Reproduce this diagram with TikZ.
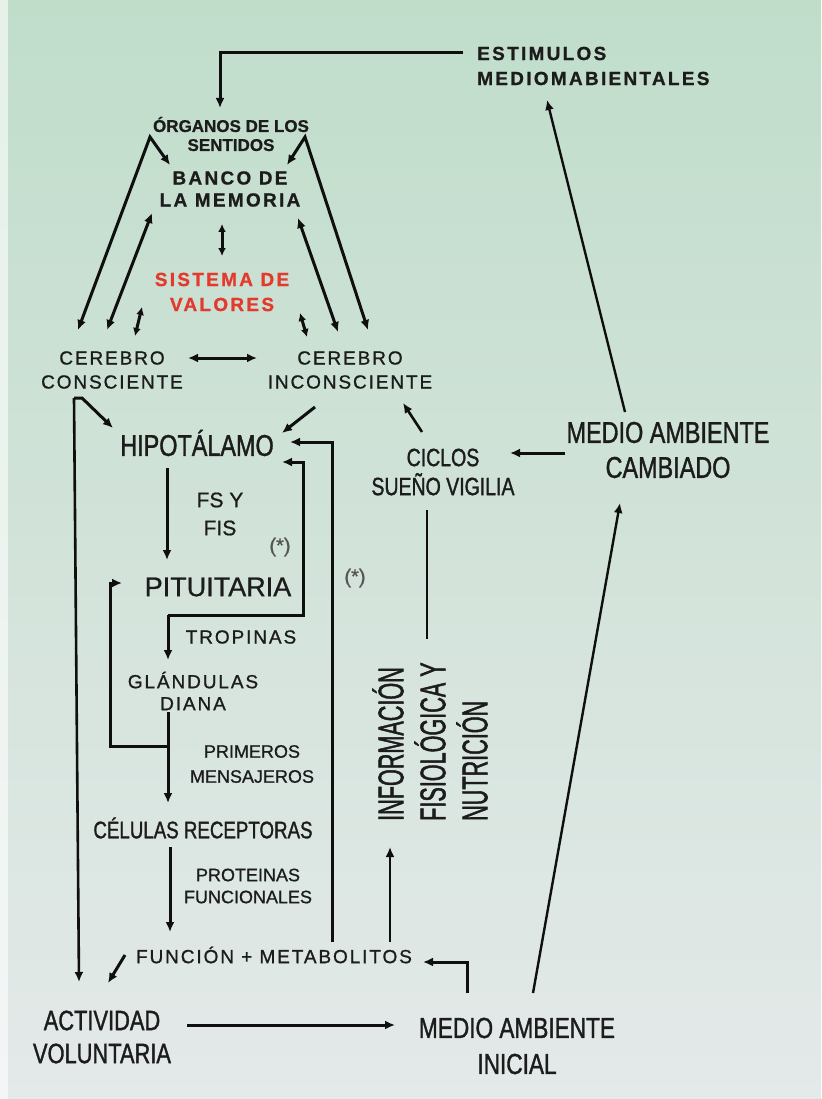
\documentclass[tikz,border=0pt]{standalone}
\usepackage{fontspec}
\setmainfont{Liberation Sans}[FakeBold=0.8]
\newfontfamily\wfont[LetterSpace=10, FakeBold=1]{Liberation Sans}
\newfontfamily\bwfont[LetterSpace=12, FakeBold=0.8]{Liberation Sans}
\newfontfamily\cfont[FakeStretch=0.78, FakeBold=1.2]{Liberation Sans}
\newfontfamily\ccfont[FakeStretch=0.6, FakeBold=1.2]{Liberation Sans}
\usetikzlibrary{arrows.meta}
\definecolor{txtcol}{RGB}{28,28,28}
\definecolor{linecol}{RGB}{15,15,15}
\definecolor{valred}{RGB}{228,58,45}
\definecolor{astcol}{RGB}{85,85,85}
\definecolor{bgtop}{RGB}{192,221,202}
\definecolor{bgmid}{RGB}{214,230,222}
\definecolor{bgbot}{RGB}{228,233,233}
\newcommand{\fsz}[2]{\fontsize{#1}{#2}\selectfont}
\tikzset{
	txt/.style={inner sep=0pt, align=center, text=txtcol},
	arr/.style={draw=linecol, line width=3pt, -{Latex[length=10pt,width=9pt]}},
	darr/.style={draw=linecol, line width=3pt, {Latex[length=10pt,width=9pt]}-{Latex[length=10pt,width=9pt]}},
	sdarr/.style={draw=linecol, line width=3pt, {Latex[length=8pt,width=8pt]}-{Latex[length=8pt,width=8pt]}},
	ln/.style={draw=linecol, line width=3pt}
}
\begin{document}
\begin{tikzpicture}[x=1pt,y=-1pt]
	\useasboundingbox (0,0) rectangle (821,1099);
	\shade[top color=bgtop, middle color=bgmid, bottom color=bgbot] (0,0) rectangle (821,1099);
	\fill[white, opacity=0.6] (0,0) rectangle (8,1099);
	\node[txt, anchor=west, align=left, font=\bwfont\bfseries\fsz{19}{25}] at (477,66) (estim) {ESTIMULOS\\MEDIOMABIENTALES};
	\node[txt, font=\bfseries\fsz{17}{19}] at (231,134) (organos) {ÓRGANOS DE LOS\\SENTIDOS};
	\node[txt, font=\bwfont\bfseries\fsz{19}{22}] at (230,189) (banco) {BANCO DE\\LA MEMORIA};
	\node[txt, text=valred, font=\bwfont\bfseries\fsz{19}{25}] at (222,292) (sistema) {SISTEMA DE\\VALORES};
	\node[txt, font=\wfont\fsz{19}{24}] at (112,370) (cc) {CEREBRO\\CONSCIENTE};
	\node[txt, font=\wfont\fsz{19}{24}] at (350,370) (ci) {CEREBRO\\INCONSCIENTE};
	\node[txt, font=\cfont\fsz{30}{36}] at (197,443) (hipo) {HIPOTÁLAMO};
	\node[txt, font=\fsz{21}{28}] at (220,514) (fs) {FS Y\\FIS};
	\node[txt, text=astcol, font=\fsz{20}{24}] at (280,547) (ast1) {(*)};
	\node[txt, text=astcol, font=\fsz{20}{24}] at (355,578) (ast2) {(*)};
	\node[txt, font=\fsz{27}{32}] at (218,587) (pit) {PITUITARIA};
	\node[txt, font=\wfont\fsz{19}{22}] at (241,637) (trop) {TROPINAS};
	\node[txt, font=\wfont\fsz{19}{22}] at (193,691) (glan) {GLÁNDULAS\\DIANA};
	\node[txt, font=\fsz{18}{25}] at (252,764) (prim) {PRIMEROS\\MENSAJEROS};
	\node[txt, font=\cfont\fsz{24}{28}] at (203,828) (cel) {CÉLULAS RECEPTORAS};
	\node[txt, font=\fsz{18}{22}] at (248,886) (prot) {PROTEINAS\\FUNCIONALES};
	\node[txt, font=\wfont\fsz{19}{22}] at (274,955) (func) {FUNCIÓN + METABOLITOS};
	\node[txt, font=\cfont\fsz{28}{33}] at (102,1037) (act) {ACTIVIDAD\\VOLUNTARIA};
	\node[txt, font=\cfont\fsz{29}{36}] at (517,1046) (mai) {MEDIO AMBIENTE\\INICIAL};
	\node[txt, font=\cfont\fsz{30}{35}] at (668,450) (mac) {MEDIO AMBIENTE\\CAMBIADO};
	\node[txt, font=\cfont\fsz{25}{29}] at (443,472) (ciclos) {CICLOS\\SUEÑO VIGILIA};
	\node[txt, rotate=90, anchor=west, align=left, font=\ccfont\fsz{36}{42}] at (430,821) (info) {INFORMACIÓN\\FISIOLÓGICA Y\\NUTRICIÓN};
	\coordinate (orgL) at ([shift={(-81,3)}]organos.center);
	\coordinate (orgR) at ([shift={(74,3)}]organos.center);
	\coordinate (ccOut) at ([shift={(-38,28)}]cc.center);
	\coordinate (pitOut) at ([shift={(-50,28)}]pit.center);
	\coordinate (glanOut) at ([shift={(-25,55)}]glan.center);
	\draw[arr] ([shift={(-14,-13)}]estim.west) -| ([shift={(-11,-26)}]organos.center);
	\draw[arr, line width=2.4pt] ([shift={(-43,-38)}]mac.center) -- ([shift={(70,34)}]estim.west);
	\draw[darr] ([shift={(-34,-40)}]cc.center) -- (orgL) -- ([shift={(-60,-24)}]banco.center);
	\draw[darr] ([shift={(18,-40)}]ci.center) -- (orgR) -- ([shift={(57,-24)}]banco.center);
	\draw[darr] ([shift={(-78,24)}]banco.center) -- ([shift={(-5,-40)}]cc.center);
	\draw[darr] ([shift={(68,29)}]banco.center) -- ([shift={(-12,-38)}]ci.center);
	\draw[sdarr] ([shift={(-8,35)}]banco.center) -- ([shift={(0,-36)}]sistema.center);
	\draw[sdarr] ([shift={(-80,15)}]sistema.center) -- ([shift={(23,-34)}]cc.center);
	\draw[sdarr] ([shift={(78,21)}]sistema.center) -- ([shift={(-43,-33)}]ci.center);
	\draw[darr] ([shift={(76,-12)}]cc.center) -- ([shift={(-93,-12)}]ci.center);
	\draw[arr, line width=2.6pt] (ccOut) -- ([shift={(-23,-55)}]act.center);
	\draw[arr] (ccOut) -- ++(8,0) -- ([shift={(-84,-15)}]hipo.center);
	\draw[arr] ([shift={(-35,37)}]ci.center) -- ([shift={(85,-10)}]hipo.center);
	\draw[arr, line width=2.6pt] ([shift={(-21,-40)}]ciclos.center) -- ([shift={(53,33)}]ci.center);
	\draw[arr] ([shift={(-103,3)}]mac.center) -- ([shift={(67,-19)}]ciclos.center);
	\draw[arr] ([shift={(-30,25)}]hipo.center) -- ([shift={(-51,-27)}]pit.center);
	\draw[arr] (pitOut) -- ([shift={(-25,-31)}]glan.center);
	\draw[arr] (pitOut) -- ++(135,0) |- ([shift={(85,19)}]hipo.center);
	\draw[arr] ([shift={(58,-13)}]func.center) |- ([shift={(93,-1)}]hipo.center);
	\draw[arr, line width=2.6pt] ([shift={(116,-13)}]func.center) -- ([shift={(-40,26)}]info.west);
	\draw[ln, line width=2.4pt] ([shift={(-16,38)}]ciclos.center) -- ([shift={(-3,-23)}]info.east);
	\draw[arr] ([shift={(-25,21)}]glan.center) -- ([shift={(-35,-25)}]cel.center);
	\draw[arr] (glanOut) -- ++(-58,0) |- ([shift={(-96,-4)}]pit.center);
	\draw[arr] ([shift={(-33,19)}]cel.center) -- ([shift={(-104,-23)}]func.center);
	\draw[arr] ([shift={(-149,0)}]func.center) -- ([shift={(6,-54)}]act.center);
	\draw[arr] ([shift={(85,-12)}]act.center) -- ([shift={(-122,-21)}]mai.center);
	\draw[arr] ([shift={(-50,-53)}]mai.center) |- ([shift={(149,7)}]func.center);
	\draw[arr, line width=2.4pt] ([shift={(16,-53)}]mai.center) -- ([shift={(-48,53)}]mac.center);
\end{tikzpicture}
\end{document}
